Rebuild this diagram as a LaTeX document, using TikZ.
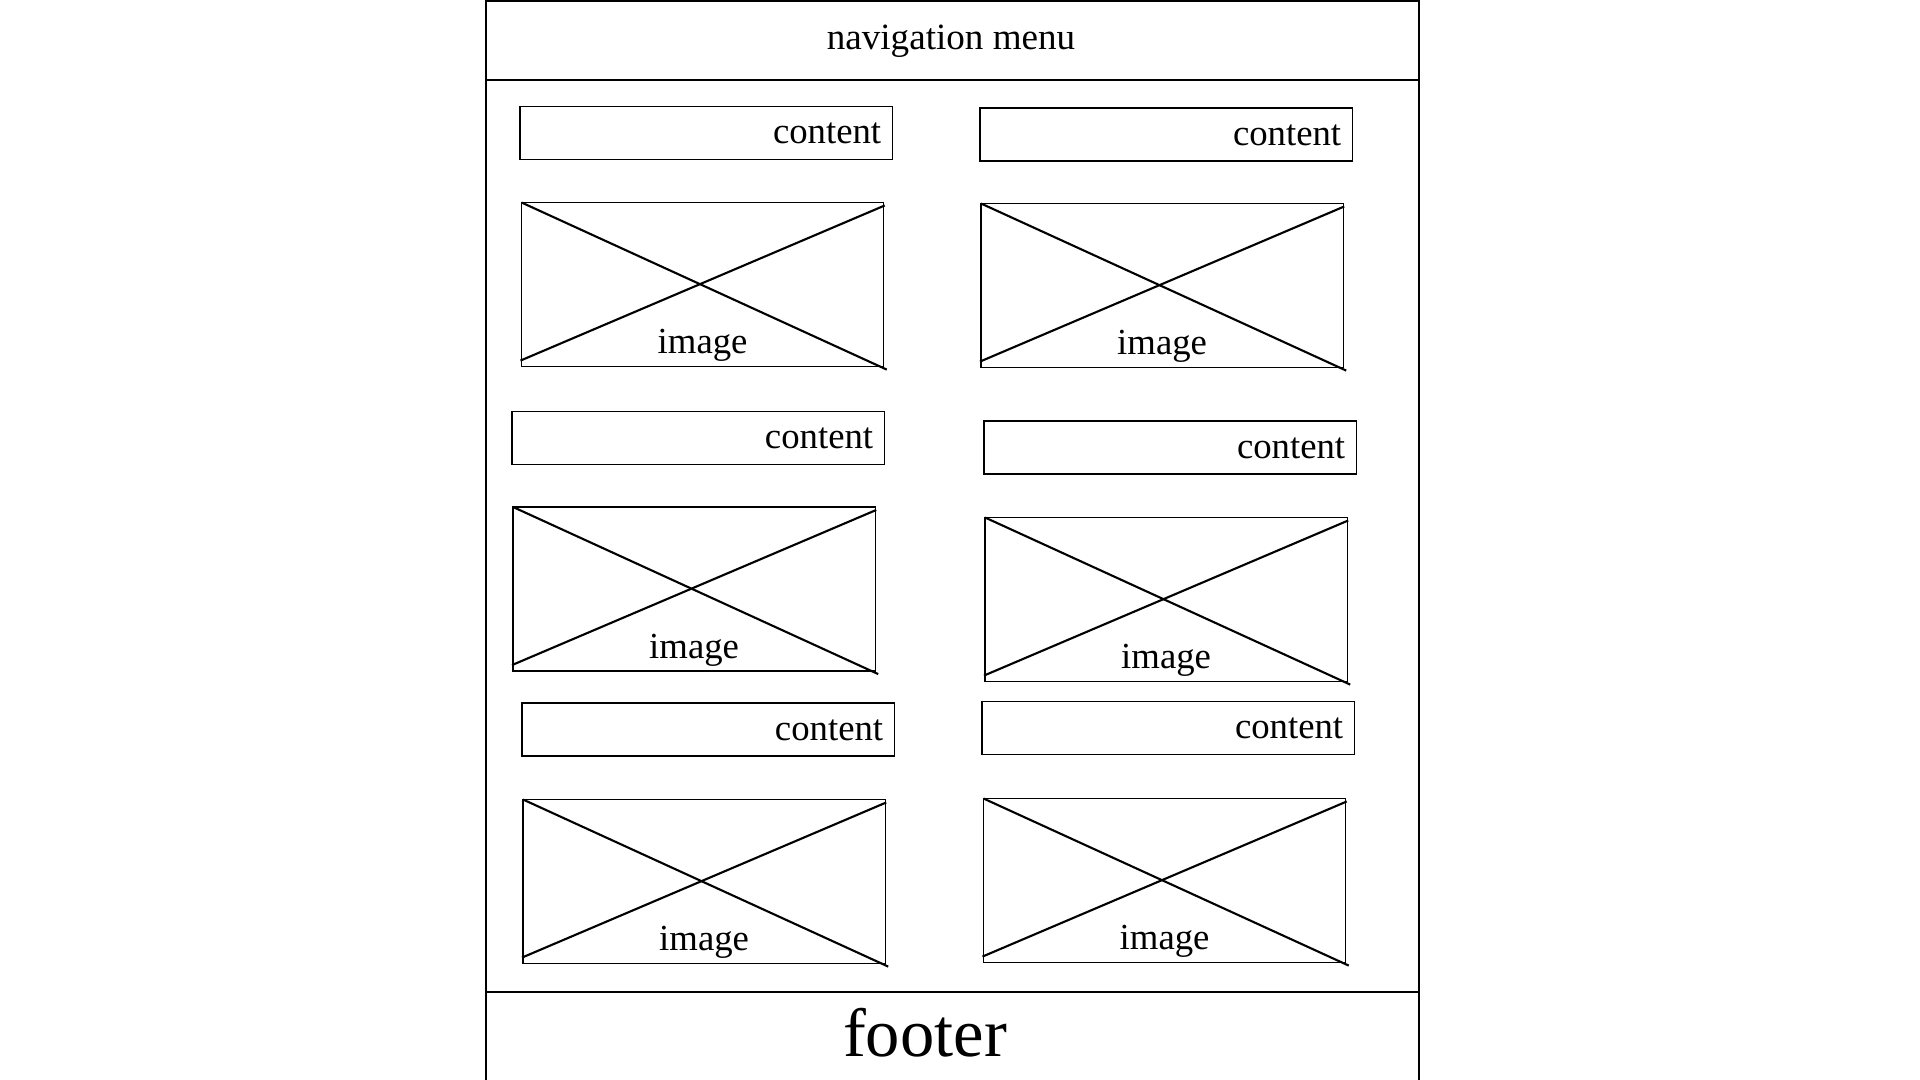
\documentclass[tikz,border=0pt]{standalone}
\usepackage{fontspec}
\setmainfont{Liberation Serif}
\usetikzlibrary{calc}
\begin{document}
\begin{tikzpicture}[x=0.01cm,y=-0.01cm,line width=0.6pt,
  frame/.style={line width=0.6pt},
  cbox/.style={draw,line width=0.4pt,rectangle,anchor=north west,inner sep=0pt,outer sep=0pt,minimum width=3.72cm,minimum height=0.53cm},
  ibox/.style={draw,line width=0.4pt,rectangle,anchor=north west,inner sep=0pt,outer sep=0pt,minimum width=3.62cm,minimum height=1.64cm},
  diag/.style={line width=0.6pt},
  lbl/.style={font=\fontsize{10.45pt}{12.5pt}\selectfont,inner sep=0pt},
  navl/.style={font=\fontsize{10.55pt}{12.5pt}\selectfont,inner sep=0pt},
  bigl/.style={font=\fontsize{19.5pt}{23pt}\selectfont,inner sep=0pt}]
\useasboundingbox[fill=white] (0,0) rectangle (1920,1080);
% page frame
\coordinate (tl) at (486,1);
\coordinate (tr) at (1419,1);
\coordinate (bl) at (486,1080);
\coordinate (br) at (1419,1080);
\coordinate (nl) at (486,80);
\coordinate (nr) at (1419,80);
\coordinate (fl) at (486,992);
\coordinate (fr) at (1419,992);
\draw[frame] (bl) -- (tl) -- (tr) -- (br);
\draw[frame] (nl) -- (nr);
\draw[frame] (fl) -- (fr);
\node[navl,anchor=base] (nav) at (951,50) {navigation menu};
\node[bigl,anchor=base] (foot) at (925,1057) {footer};
% content boxes
\node[cbox] (c1) at (520,106.5) {};
\node[cbox] (c2) at (512,411.5) {};
\node[cbox] (c3) at (522,703) {};
\node[cbox] (c4) at (980,108) {};
\node[cbox] (c5) at (984,421) {};
\node[cbox] (c6) at (982,701.5) {};
\foreach \c in {c1,c2,c3,c4,c5,c6}{
  \node[lbl,anchor=base east] (\c t) at ($(\c.south east)+(-10,-16)$) {content};
}
% image boxes
\node[ibox] (i1) at (521.5,202.5) {};
\node[ibox] (i2) at (513,507) {};
\node[ibox] (i3) at (523,799.5) {};
\node[ibox] (i4) at (981,203.5) {};
\node[ibox] (i5) at (985,517.5) {};
\node[ibox] (i6) at (983.5,798.5) {};
\foreach \i in {i1,i2,i3,i4,i5,i6}{
  \draw[diag] (\i.north west) -- ($(\i.south east)+(3,3)$);
  \draw[diag] ($(\i.south west)+(-1,-6)$) -- ($(\i.north east)+(1,3)$);
  \node[lbl,anchor=base] (\i t) at ($(\i.south)+(0,-13)$) {image};
}
\end{tikzpicture}
\end{document}
